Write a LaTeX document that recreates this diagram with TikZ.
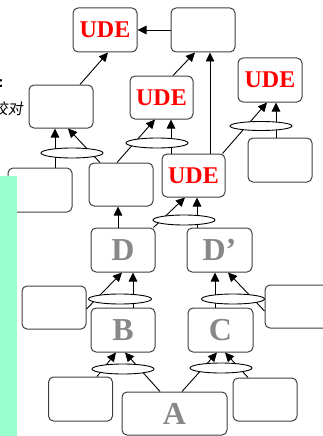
\documentclass[tikz,border=0pt]{standalone}
\usepackage{fontspec}
\setmainfont{Liberation Serif}
\newfontfamily\cjk[FakeSlant=0.15]{Noto Sans CJK SC}
\usetikzlibrary{calc,arrows.meta,shapes.geometric}
\definecolor{mint}{HTML}{99FFCC}
\definecolor{boxline}{HTML}{404040}
\definecolor{lettergray}{HTML}{888888}
\begin{document}
\begin{tikzpicture}[x=1pt,y=-1pt,
  box/.style={draw=boxline,line width=1pt,rounded corners=5pt,fill=white,minimum width=64pt,minimum height=44pt,inner sep=0pt},
  ude/.style={box,text=red,font=\fontsize{24}{24}\selectfont\bfseries},
  letter/.style={box,text=lettergray,font=\fontsize{32}{32}\selectfont\bfseries},
  link/.style={draw,line width=0.9pt},
  arr/.style={link,-{Triangle[length=9pt,width=8.5pt]}},
  oval/.style={ellipse,draw,line width=0.9pt,fill=white,minimum width=62pt,minimum height=10pt,inner sep=0pt}]
\useasboundingbox (0,0) rectangle (323,436);
\clip (0,0) rectangle (323,436);
% boxes
\node[ude] (U1) at (105,30) {UDE};
\node[box] (T2) at (203,30) {};
\node[box,minimum height=43pt] (L1) at (61,106.5) {};
\node[ude,minimum width=63pt,minimum height=43pt] (U2) at (161.5,97.5) {UDE};
\node[ude] (U4) at (270,80) {UDE};
\node[box] (R1) at (280,160) {};
\node[ude,minimum width=63pt,minimum height=43pt] (U3) at (193.5,175.5) {UDE};
\node[box,minimum height=43pt] (M1) at (121,184.5) {};
\node[box] (L2) at (40,190) {};
\node[letter] (D) at (123,250) {D};
\node[letter,minimum width=65pt] (Dp) at (219.5,250) {D’};
\node[box,minimum height=43pt] (L3) at (54,307.5) {};
\node[box,minimum height=43pt] (R2) at (297,306.5) {};
\node[letter] (B) at (123,330) {B};
\node[letter,minimum width=65pt] (C) at (220.5,330) {C};
\node[box] (L4) at (80.5,399) {};
\node[letter,minimum width=105pt,minimum height=43pt] (A) at (174.5,413.5) {A};
\node[box,minimum height=43pt] (R3) at (265,399.5) {};
% connectors
\draw[arr] (T2.west) -- (U1.east);
\draw[arr] ($(L1.north)+(19,0)$) -- ($(U1.south)+(3,0)$);
\draw[arr] ($(U2.north)+(11.5,0)$) -- ($(T2.south)+(-8,0)$);
\draw[arr] ($(U3.north)+(16.5,0)$) -- ($(T2.south)+(7,0)$);
\draw[arr] ($(R1.north)+(-4,0)$) -- ($(U4.south)+(6,0)$);
\draw[arr] ($(U3.north east)+(-3,0)$) -- ($(U4.south)+(-3,0)$);
\draw[arr] ($(L2.north)+(15,0)$) -- ($(L1.south)+(-6,0)$);
\draw[arr] ($(M1.north)+(-21,0)$) -- ($(L1.south)+(7,0)$);
\draw[arr] ($(M1.north)+(-4,0)$) -- ($(U2.south)+(-6.5,0)$);
\draw[arr] ($(U3.north)+(-22.5,0)$) -- ($(U2.south)+(9.5,0)$);
\draw[arr] ($(D.north)+(-5,0)$) -- ($(M1.south)+(-3,0)$);
\draw[arr] ($(D.north east)+(-2,0)$) -- ($(U3.south)+(-8.5,0)$);
\draw[arr] ($(Dp.north)+(-22.5,0)$) -- ($(U3.south)+(3.5,0)$);
\draw[arr] ($(L3.east)+(0,1.5)$) -- ($(D.south)+(-1,0)$);
\draw[arr] ($(B.north)+(10,0)$) -- ($(D.south)+(10,0)$);
\draw[arr] ($(C.north)+(-5.5,0)$) -- ($(Dp.south)+(-4.5,0)$);
\draw[arr] ($(R2.west)+(0,4.5)$) -- ($(Dp.south)+(8.5,0)$);
\draw[arr] ($(L4.north)+(16.5,0)$) -- ($(B.south)+(-7,0)$);
\draw[arr] ($(A.north)+(-14.5,0)$) -- ($(B.south)+(2,0)$);
\draw[arr] ($(A.north)+(7.5,0)$) -- ($(C.south)+(-3.5,0)$);
\draw[arr] ($(R3.north)+(-17,0)$) -- ($(C.south)+(4.5,0)$);
% ovals
\node[oval] (e1) at (72,153) {};
\node[oval] (e2) at (157,143) {};
\node[oval,minimum height=9pt] (e4) at (261,126) {};
\node[oval] (e3) at (184,220) {};
\node[oval,minimum width=63pt] (eD) at (120,299) {};
\node[oval,minimum width=63pt] (eDp) at (233,299) {};
\node[oval] (eB) at (123,369) {};
\node[oval] (eC) at (221,368) {};
% side strip and cut texts
\fill[mint] (0,176) rectangle (17,436);
\node[font=\sffamily\bfseries\fontsize{17}{17}\selectfont,inner sep=0pt] (colon) at (1,84) {:};
\node[anchor=east,inner sep=0pt,font=\cjk\fontsize{15}{15}\selectfont] (txt) at (23,109) {校对};
\end{tikzpicture}
\end{document}
